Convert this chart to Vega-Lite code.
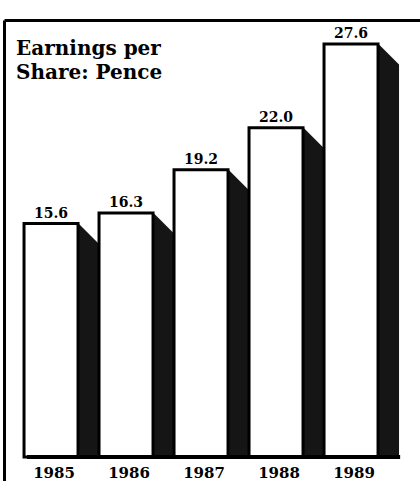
{
  "$schema": "https://vega.github.io/schema/vega-lite/v6.json",
  "autosize": {"type": "none"},
  "padding": {"left": 4, "top": 20, "right": 0, "bottom": 0},
  "width": 416,
  "height": 461,
  "background": "white",
  "config": {"view": {"stroke": null}},
  "title": {
    "text": ["Earnings per", "Share: Pence"],
    "orient": "top",
    "anchor": "start",
    "frame": "group",
    "baseline": "top",
    "offset": -63,
    "dx": 12,
    "font": "DejaVu Serif",
    "fontWeight": "bold",
    "fontSize": 20,
    "lineHeight": 24,
    "color": "black"
  },
  "data": {
    "values": [
      {"year": "1985", "eps": 15.6},
      {"year": "1986", "eps": 16.3},
      {"year": "1987", "eps": 19.2},
      {"year": "1988", "eps": 22.0},
      {"year": "1989", "eps": 27.6}
    ]
  },
  "encoding": {
    "x": {
      "field": "year",
      "type": "ordinal",
      "scale": {"paddingInner": 0.28, "paddingOuter": 0.4133, "align": 0.323, "round": false},
      "axis": {"orient": "top", "title": null, "labels": false, "ticks": false, "domain": true, "domainColor": "black", "domainWidth": 3, "grid": false}
    },
    "y": {
      "field": "eps",
      "type": "quantitative",
      "scale": {"domain": [-1.6, 29.2], "nice": false, "zero": false},
      "axis": {"title": null, "labels": false, "ticks": false, "domain": true, "domainColor": "black", "domainWidth": 3, "grid": false}
    }
  },
  "layer": [
    {
      "mark": {"type": "bar", "width": 21, "xOffset": 37.5, "fill": "#151515", "stroke": null},
      "encoding": {"y2": {"datum": 0}}
    },
    {
      "mark": {"type": "point", "shape": "M-1,-1L1,-1L1,1Z", "filled": true, "fill": "white", "opacity": 1, "strokeWidth": 0, "size": 529, "xOffset": 38, "yOffset": 10.5}
    },
    {
      "mark": {"type": "bar", "fill": "white", "stroke": "black", "strokeWidth": 3},
      "encoding": {"y2": {"datum": 0}}
    },
    {
      "mark": {"type": "rule", "stroke": "black", "strokeWidth": 4, "xOffset": -24, "x2Offset": 49},
      "encoding": {
        "x": {"datum": "1985"},
        "x2": {"datum": "1989"},
        "y": {"datum": 0}
      }
    },
    {
      "mark": {"type": "text", "font": "DejaVu Serif", "fontWeight": "bold", "fontSize": 14, "dy": -6, "baseline": "alphabetic", "color": "black"},
      "encoding": {"text": {"field": "eps", "type": "quantitative", "format": ".1f"}}
    },
    {
      "mark": {"type": "text", "font": "DejaVu Serif", "fontWeight": "bold", "fontSize": 15, "dy": 21, "dx": 3, "baseline": "alphabetic", "color": "black"},
      "encoding": {"text": {"field": "year"}, "y": {"datum": 0}}
    }
  ]
}
